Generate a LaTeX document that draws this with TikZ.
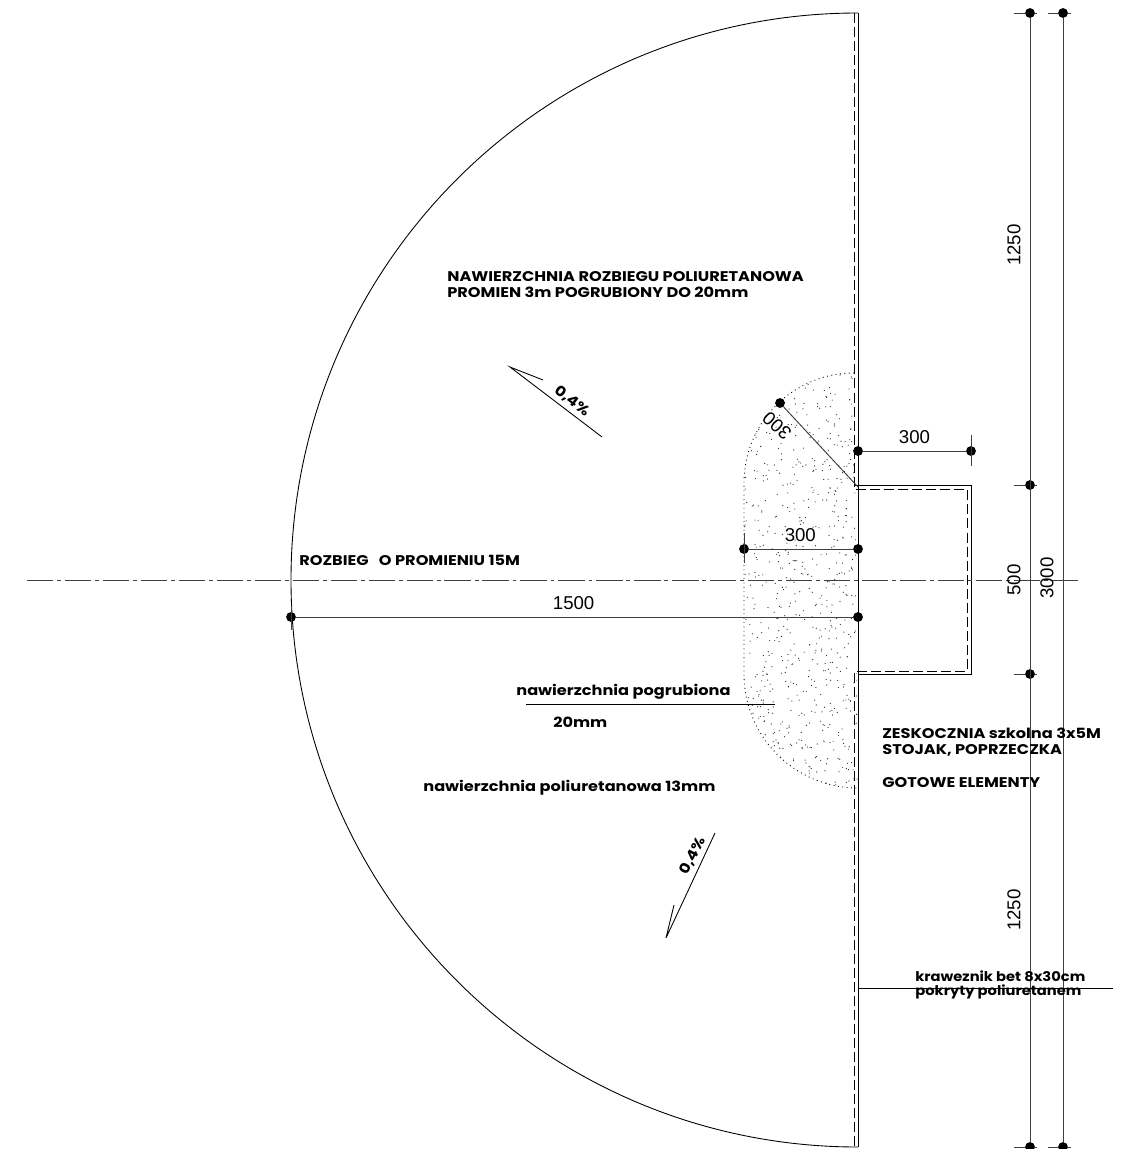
\documentclass[tikz,border=0pt]{standalone}
\usepackage{fontspec}
\setmainfont{Liberation Sans}
\newfontfamily\notefont[FakeStretch=1.15]{Poppins}
\newfontfamily\curbfont[FakeStretch=1.10]{Poppins}
\begin{document}
\begin{tikzpicture}[x=0.02cm, y=-0.02cm]
		\def\curbx{858}
		\def\dashx{854}
		\def\boxx{971}
		\def\axisy{580}
		\def\dimax{1030}
		\def\dimbx{1063}

		\tikzset{
			dimdot/.style={fill,circle,minimum size=5.6pt,inner sep=0pt,outer sep=0pt},
			thinline/.style={line width=0.5pt},
			dimline/.style={line width=0.55pt, draw=black!75},
			dashline/.style={line width=0.5pt, dash pattern=on 5.7pt off 2.3pt},
			dimtext/.style={font=\fontsize{10.6}{13}\selectfont, inner sep=0pt, text=black},
			notetext/.style={font=\notefont\bfseries\fontsize{8}{9.1}\selectfont, inner sep=0pt, anchor=west, align=left},
			curbtext/.style={notetext, font=\curbfont\bfseries\fontsize{7.6}{9.1}\selectfont}
		}

		\useasboundingbox (0,0) rectangle (1134,1149);

		% thickened surface
		\begin{scope}
			\clip (\dashx,373) arc[start angle=-90, end angle=-180, radius=110] -- (744,674) arc[start angle=180, end angle=90, radius=114] -- cycle;
			\pgfmathsetseed{4711}
			\foreach \i in {1,...,720} {
				\pgfmathsetmacro{\dotx}{744+114*rnd}
				\pgfmathsetmacro{\doty}{373+416*rnd}
				\fill[black!85] (\dotx,\doty) circle[radius=0.6];
			}
		\end{scope}
		\draw[thinline, dotted] (\dashx,373) arc[start angle=-90, end angle=-180, radius=110] -- (744,674) arc[start angle=180, end angle=90, radius=114];

		% run-up and curb
		\draw[thinline] (\curbx,13) arc[start angle=-90, end angle=-270, radius=567];
		\draw[line width=0.55pt] (\curbx,13) -- (\curbx,1147);
		\draw[dashline] (\dashx,13) -- (\dashx,489) -- (967,489) -- (967,671) -- (\dashx,671) -- (\dashx,1147);
		\draw[line width=0.55pt] (\dashx,485) -- (\boxx,485) -- (\boxx,674) -- (\curbx,674);

		% axis
		\draw[dimline, dash pattern=on 15pt off 2.2pt on 2.2pt off 2.2pt] (27,\axisy) -- (1080,\axisy);

		% dimension dots
		\node[dimdot] (R_L) at (291,617) {};
		\node[dimdot] (R_R) at (\curbx,617) {};
		\node[dimdot] (T_L) at (744,549) {};
		\node[dimdot] (T_R) at (\curbx,549) {};
		\node[dimdot] (J_L) at (\curbx,451) {};
		\node[dimdot] (J_R) at (\boxx,451) {};
		\node[dimdot] (C_A) at (780,403) {};
		\coordinate (C_B) at (\curbx,487);
		\node[dimdot] (A_0) at (\dimax,13) {};
		\node[dimdot] (A_1) at (\dimax,485) {};
		\node[dimdot] (A_2) at (\dimax,674) {};
		\node[dimdot] (A_3) at (\dimax,1147) {};
		\node[dimdot] (B_0) at (\dimbx,13) {};
		\node[dimdot] (B_1) at (\dimbx,1147) {};

		% dimension lines
		\draw[dimline] (R_L) -- (R_R) node[midway,above=4pt,dimtext,xshift=-0.5pt] {1500};
		\draw[dimline] (T_L) -- (T_R) node[midway,above=4pt,dimtext,xshift=-0.4pt] {300};
		\draw[dimline] (J_L) -- (J_R) node[midway,above=4pt,dimtext] {300};
		\draw[dimline] (C_A) -- (C_B);
		\draw[dimline] (A_0) -- (A_3);
		\draw[dimline] (B_0) -- (B_1);

		% ticks
		\draw[dimline] (291,606) -- (291,630);
		\draw[dimline] (744,533) -- (744,563);
		\draw[dimline] (\boxx,435) -- (\boxx,466);
		\foreach \tickn/\ticky in {A_0/13, A_1/485, A_2/674, A_3/1147} {
			\draw[dimline] (1014,\ticky) -- (\tickn) -- (1037,\ticky);
		}
		\draw[dimline] (1048,13) -- (B_0) -- (1071,13);
		\draw[dimline] (1048,1147) -- (B_1) -- (1071,1147);

		% dimension labels
		\node[dimtext, rotate=138] (L_C) at (777,426) {300};
		\node[dimtext, rotate=90] (L_A) at (1014,245) {1250};
		\node[dimtext, rotate=90] (L_B) at (1014,580) {500};
		\node[dimtext, rotate=90] (L_D) at (1014,910) {1250};
		\node[dimtext, rotate=90] (L_E) at (1047,578) {3000};

		% slopes
		\node[notetext, anchor=center, rotate=-37] (S_A) at (572,401) {0,4\%};
		\coordinate (S_A0) at (510,367);
		\draw[thinline] (602,437) -- (S_A0) -- (543,380);
		\node[notetext, anchor=center, rotate=63] (S_B) at (693,856) {0,4\%};
		\coordinate (S_B0) at (666,938);
		\draw[thinline] (715,833) -- (S_B0) -- (674,905);

		% notes
		\node[notetext] (N_A) at (447,285) {NAWIERZCHNIA ROZBIEGU POLIURETANOWA\\PROMIEN 3m POGRUBIONY DO 20mm};
		\node[notetext] (N_B) at (299,560) {ROZBIEG\ \ \ O\ PROMIENIU\ 15M};
		\node[notetext] (N_C) at (516,692) {nawierzchnia pogrubiona};
		\node[notetext] (N_D) at (553,722) {20mm};
		\node[notetext] (N_E) at (423,788) {nawierzchnia poliuretanowa 13mm};
		\node[notetext] (N_F) at (882,733) {ZESKOCZNIA szkolna 3x5M};
		\node[notetext] (N_G) at (882,750) {STOJAK, POPRZECZKA};
		\node[notetext] (N_H) at (882,783) {GOTOWE ELEMENTY};
		\node[curbtext] (N_I) at (915,976) {kraweznik bet 8x30cm};
		\node[curbtext] (N_J) at (915,992) {pokryty poliuretanem};

		% leaders
		\draw[thinline] (526,704) -- (775,704);
		\draw[thinline] (\curbx,988) -- (1113,988);
\end{tikzpicture}
\end{document}
